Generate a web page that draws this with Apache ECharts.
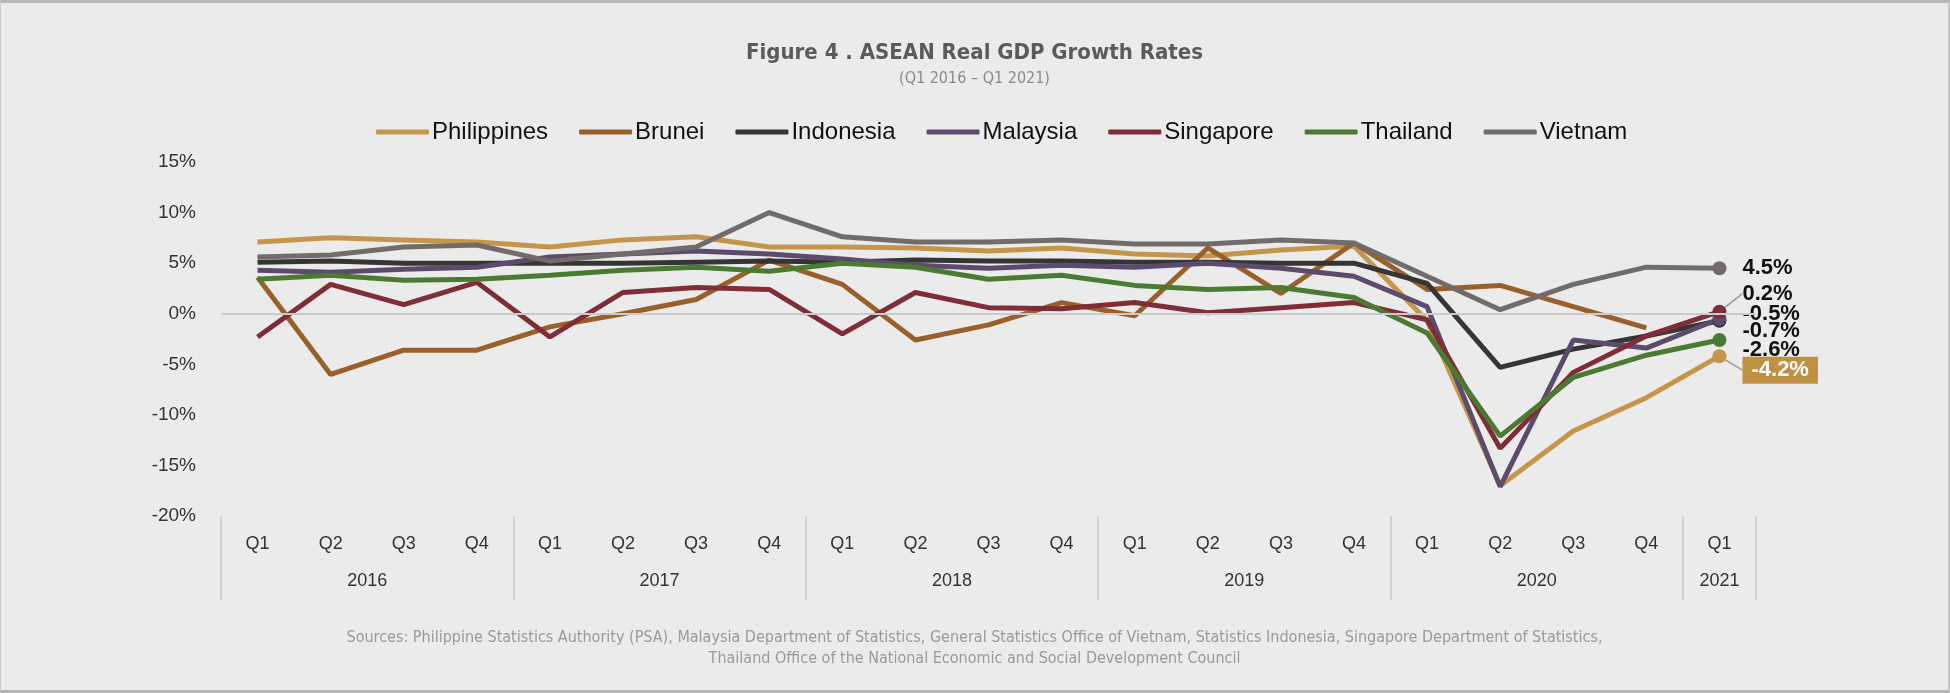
<!DOCTYPE html>
<html>
<head>
<meta charset="utf-8">
<script src="https://cdn.jsdelivr.net/npm/echarts@6/dist/echarts.min.js"></script>
<style>
  html, body { margin: 0; padding: 0; background: #ebebeb; }
  #wrap {
    width: 1950px; height: 693px; box-sizing: border-box;
    border-top: 3px solid #b8b8b8; border-bottom: 3px solid #b3b3b3;
    border-left: 1px solid #c8c8c8; border-right: 2px solid #c8c8c8;
  }
  #chart-container { width: 100%; height: 100%; }
</style>
</head>
<body>
<div id="wrap"><div id="chart-container"></div></div>
<script>
// categories
var quarters = ['Q1', 'Q2', 'Q3', 'Q4', 'Q1', 'Q2', 'Q3', 'Q4', 'Q1', 'Q2', 'Q3', 'Q4',
    'Q1', 'Q2', 'Q3', 'Q4', 'Q1', 'Q2', 'Q3', 'Q4', 'Q1'];
var years = ['2016', '2017', '2018', '2019', '2020', '2021'];
var quartersPerYear = [4, 4, 4, 4, 4, 1];

// real GDP growth, % y/y
var philippines = [7.1, 7.5, 7.3, 7.1, 6.6, 7.3, 7.6, 6.6, 6.6, 6.5, 6.2, 6.5, 5.9, 5.7, 6.3, 6.7, -0.7, -17.0, -11.6, -8.3, -4.2];
var brunei = [3.6, -6.0, -3.6, -3.6, -1.3, 0.0, 1.4, 5.3, 2.9, -2.6, -1.1, 1.1, -0.2, 6.5, 2.0, 7.0, 2.4, 2.8, 0.7, -1.4, null];
var indonesia = [5.1, 5.2, 5.0, 5.0, 5.0, 5.0, 5.1, 5.2, 5.1, 5.3, 5.2, 5.2, 5.1, 5.1, 5.0, 5.0, 3.0, -5.3, -3.5, -2.2, -0.7];
var malaysia = [4.3, 4.1, 4.4, 4.6, 5.6, 5.9, 6.2, 5.9, 5.4, 4.8, 4.5, 4.8, 4.6, 5.0, 4.5, 3.7, 0.7, -17.1, -2.6, -3.4, -0.5];
var singapore = [-2.3, 2.9, 0.9, 3.1, -2.3, 2.1, 2.6, 2.4, -2.0, 2.1, 0.6, 0.5, 1.1, 0.1, 0.6, 1.1, -0.6, -13.3, -5.8, -2.2, 0.2];
var thailand = [3.4, 3.8, 3.3, 3.4, 3.8, 4.3, 4.6, 4.2, 5.0, 4.6, 3.4, 3.8, 2.8, 2.4, 2.6, 1.6, -1.9, -12.1, -6.3, -4.1, -2.6];
var vietnam = [5.6, 5.8, 6.6, 6.8, 5.2, 5.9, 6.6, 10.0, 7.6, 7.1, 7.1, 7.3, 6.9, 6.9, 7.3, 7.0, 3.7, 0.4, 2.9, 4.6, 4.5];

var yTicks = [-20, -15, -10, -5, 0, 5, 10, 15];

var sourceLines = [
    'Sources: Philippine Statistics Authority (PSA), Malaysia Department of Statistics, General Statistics Office of Vietnam, Statistics Indonesia, Singapore Department of Statistics,',
    'Thailand Office of the National Economic and Social Development Council'
];

// year group boundaries and centres on the quarter index scale
var yearEdges = [0];
var yearCentres = {};
quartersPerYear.forEach(function (n, i) {
    var start = yearEdges[yearEdges.length - 1];
    yearEdges.push(start + n);
    yearCentres[start + n / 2] = years[i];
});

var dom = document.getElementById('chart-container');
var myChart = echarts.init(dom, null, { renderer: 'canvas' });

var labelFont = 'Liberation Sans';
var narrowFont = '"DejaVu Sans Condensed", sans-serif';

function lastLabel(extra) {
    var l = {
        show: true,
        position: 'right',
        distance: 16,
        fontFamily: labelFont,
        fontWeight: 'bold',
        fontSize: 22,
        color: '#111',
        formatter: function (p) { return p.value.toFixed(1) + '%'; }
    };
    if (extra) { for (var k in extra) l[k] = extra[k]; }
    return l;
}

function makeSeries(name, values, color, dy, labelExtra, guide) {
    var last = values.length - 1;
    var data = values.map(function (v, i) {
        if (i === last && v !== null) {
            return {
                value: v,
                symbol: 'circle',
                symbolSize: 14,
                label: lastLabel(labelExtra)
            };
        }
        return v;
    });
    return {
        name: name,
        type: 'line',
        data: data,
        symbol: 'none',
        showAllSymbol: true,
        color: color,
        lineStyle: { width: 5, color: color },
        itemStyle: { color: color },
        emphasis: { disabled: true },
        labelLayout: { dy: dy },
        labelLine: {
            show: !!guide,
            lineStyle: { color: '#9a9a9a', width: 1.5 }
        }
    };
}

var series = [
    makeSeries('Philippines', philippines, '#c4954a', 14,
        { color: '#fff', backgroundColor: '#bf9041', padding: [3, 9, 2, 9] }, true),
    makeSeries('Brunei', brunei, '#9a6029', 0),
    makeSeries('Indonesia', indonesia, '#353535', 10),
    makeSeries('Malaysia', malaysia, '#5c4b6c', -5),
    makeSeries('Singapore', singapore, '#7f2e38', -18, null, true),
    makeSeries('Thailand', thailand, '#4b7b32', 10),
    makeSeries('Vietnam', vietnam, '#716c6a', 0)
];

// zero line
series[0].markLine = {
    silent: true,
    symbol: 'none',
    label: { show: false },
    lineStyle: { color: '#cacaca', width: 2, type: 'solid' },
    data: [{ yAxis: 0 }]
};

var option = {
    backgroundColor: '#ebebeb',
    animation: false,
    title: [
        {
            text: 'Figure 4 . ASEAN Real GDP Growth Rates',
            left: 'center',
            top: 34,
            textStyle: { fontFamily: narrowFont, fontWeight: 'bold', fontSize: 22, color: '#5b5b5b' }
        },
        {
            text: '(Q1 2016 \u2013 Q1 2021)',
            left: 'center',
            top: 63,
            textStyle: { fontFamily: narrowFont, fontWeight: 'normal', fontSize: 16, color: '#8a8a8a' }
        },
        {
            text: sourceLines[0],
            left: 'center',
            top: 622,
            textStyle: { fontFamily: narrowFont, fontWeight: 'normal', fontSize: 16, color: '#999' }
        },
        {
            text: sourceLines[1],
            left: 'center',
            top: 643,
            textStyle: { fontFamily: narrowFont, fontWeight: 'normal', fontSize: 16, color: '#999' }
        }
    ],
    legend: {
        top: 112,
        left: 370,
        icon: 'roundRect',
        itemWidth: 53,
        itemHeight: 5,
        itemGap: 31,
        textStyle: { fontFamily: labelFont, fontSize: 24, color: '#111', padding: [0, 0, 0, -2] },
        data: ['Philippines', 'Brunei', 'Indonesia', 'Malaysia', 'Singapore', 'Thailand', 'Vietnam']
    },
    grid: { left: 220, right: 192, top: 159, bottom: 174, containLabel: false },
    xAxis: [
        {
            type: 'category',
            data: quarters,
            boundaryGap: true,
            axisLine: { show: false },
            axisTick: { show: false },
            axisLabel: { margin: 19, fontFamily: labelFont, fontSize: 18, color: '#333' }
        },
        {
            type: 'value',
            position: 'bottom',
            min: 0,
            max: quarters.length,
            splitLine: { show: false },
            axisLine: { show: false },
            axisTick: {
                show: true,
                customValues: yearEdges,
                length: 84,
                lineStyle: { color: '#c9c9c9', width: 1.5 }
            },
            axisLabel: {
                customValues: Object.keys(yearCentres).map(Number),
                margin: 56,
                fontFamily: labelFont,
                fontSize: 18,
                color: '#333',
                formatter: function (v) { return yearCentres[v] || ''; }
            }
        }
    ],
    yAxis: {
        type: 'value',
        min: yTicks[0],
        max: yTicks[yTicks.length - 1],
        interval: 5,
        splitLine: { show: false },
        axisLine: { show: false },
        axisTick: { show: false },
        axisLabel: {
            margin: 25,
            fontFamily: labelFont,
            fontSize: 19,
            color: '#333',
            formatter: '{value}%'
        }
    },
    series: series
};

myChart.setOption(option);
</script>
</body>
</html>
